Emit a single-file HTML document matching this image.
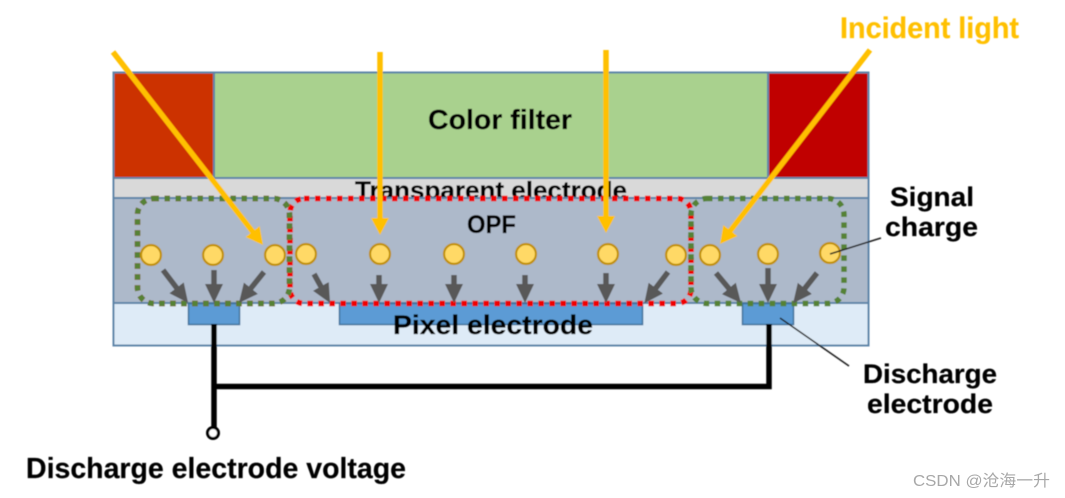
<!DOCTYPE html>
<html><head><meta charset="utf-8"><style>
html,body{margin:0;padding:0;background:#fff;width:1065px;height:498px;overflow:hidden}
svg{display:block}
text{font-family:"Liberation Sans",sans-serif;font-weight:bold;fill:#000;stroke:#000;stroke-width:0.2px}
</style></head><body>
<svg width="1065" height="498" viewBox="0 0 1065 498" xmlns="http://www.w3.org/2000/svg">
<defs>
<filter id="b"><feGaussianBlur stdDeviation="0.5"/></filter>
<marker id="g" markerUnits="userSpaceOnUse" markerWidth="22" markerHeight="20" refX="4" refY="10" orient="auto"><path d="M0 1L19 10L0 19Z" fill="#595959"/></marker>
<marker id="y" markerUnits="userSpaceOnUse" markerWidth="22" markerHeight="20" refX="3" refY="10" orient="auto"><path d="M0 1L17 10L0 19Z" fill="#FFC000"/></marker>
</defs>
<g filter="url(#b)">
<rect x="113" y="72" width="101" height="106" fill="#CC3300"/>
<rect x="214" y="72" width="554" height="106" fill="#A9D18E"/>
<rect x="768" y="72" width="101" height="106" fill="#C00000"/>
<rect x="113" y="178" width="756" height="20" fill="#D9D9D9"/>
<rect x="113" y="303" width="756" height="43" fill="#DEEBF7"/>
<text x="355" y="199" font-size="25" textLength="272" lengthAdjust="spacingAndGlyphs">Transparent electrode</text>
<rect x="113" y="198" width="756" height="105" fill="#ADB9CA"/>
<g fill="none" stroke="#5B84A8" stroke-width="2">
<rect x="113.500" y="72.500" width="755" height="273"/>
<path d="M113 178H869M113 198H869M113 303H869M214 72V178M768 72V178"/>
</g>
<g fill="#5B9BD5" stroke="#41719C" stroke-width="1.500">
<rect x="188.500" y="303.500" width="51" height="21"/>
<rect x="339.500" y="303.500" width="303" height="21"/>
<rect x="742.500" y="303.500" width="51" height="21"/>
</g>
<g fill="none" stroke="#000" stroke-width="5.500">
<path d="M214 324V428M769 324V386.500H214"/>
</g>
<circle cx="213" cy="433" r="5.500" fill="#fff" stroke="#000" stroke-width="3"/>
<g fill="none" stroke-width="5.500" stroke-dasharray="5.500 5.500">
<rect x="137.500" y="198.500" width="152" height="105" rx="16" stroke="#EE1111"/>
<rect x="290" y="198.500" width="401" height="105" rx="14" stroke="#F00000"/>
<rect x="137.500" y="198.500" width="152" height="105" rx="16" stroke="#548235"/>
<rect x="691" y="198.500" width="153" height="105" rx="16" stroke="#548235"/>
</g>
<g fill="#FFD966" stroke="#BF9000" stroke-width="2.200">
<circle cx="151" cy="255" r="10"/><circle cx="213" cy="255" r="10"/><circle cx="275" cy="255" r="10"/>
<circle cx="306" cy="254" r="10"/><circle cx="380" cy="254" r="10"/><circle cx="454" cy="254" r="10"/>
<circle cx="526" cy="254" r="10"/><circle cx="608" cy="254" r="10"/><circle cx="676" cy="255" r="10"/>
<circle cx="710" cy="255" r="10"/><circle cx="768" cy="254" r="10"/><circle cx="830" cy="253" r="10"/>
</g>
<g stroke="#595959" stroke-width="5.500" fill="none">
<path d="M163 270L179 291" marker-end="url(#g)"/>
<path d="M214 270V288" marker-end="url(#g)"/>
<path d="M264 272L248.400 291.300" marker-end="url(#g)"/>
<path d="M314 274L322.800 289.900" marker-end="url(#g)"/>
<path d="M379 275V288" marker-end="url(#g)"/>
<path d="M454 275V288" marker-end="url(#g)"/>
<path d="M525 275V288" marker-end="url(#g)"/>
<path d="M606 273V288" marker-end="url(#g)"/>
<path d="M668 272L653.400 291.300" marker-end="url(#g)"/>
<path d="M716 273L731.400 291.500" marker-end="url(#g)"/>
<path d="M768 268V288" marker-end="url(#g)"/>
<path d="M817 273L802.400 291.500" marker-end="url(#g)"/>
</g>
<g stroke="#FFC000" stroke-width="5.500" fill="none">
<path d="M113 52L254.400 233.900" marker-end="url(#y)"/>
<path d="M380 52V221" marker-end="url(#y)"/>
<path d="M606 50V219" marker-end="url(#y)"/>
<path d="M870 50L728.600 232.900" marker-end="url(#y)"/>
</g>
<g stroke="#1f1f1f" stroke-width="1.500" fill="none">
<path d="M830 254L881 238M780 318L849 366"/>
</g>
<text x="428" y="129" font-size="28" textLength="144" lengthAdjust="spacingAndGlyphs">Color filter</text>
<text x="467" y="233" font-size="25" textLength="49" lengthAdjust="spacingAndGlyphs">OPF</text>
<text x="393" y="334" font-size="27" textLength="200" lengthAdjust="spacingAndGlyphs">Pixel electrode</text>
<text x="840" y="38" font-size="30" textLength="179" lengthAdjust="spacingAndGlyphs" style="fill:#FFC000;stroke:#FFC000">Incident light</text>
<text x="890" y="206" font-size="27" textLength="84" lengthAdjust="spacingAndGlyphs">Signal</text>
<text x="885" y="236" font-size="27" textLength="93" lengthAdjust="spacingAndGlyphs">charge</text>
<text x="863" y="383" font-size="27" textLength="134" lengthAdjust="spacingAndGlyphs">Discharge</text>
<text x="867" y="413" font-size="27" textLength="126" lengthAdjust="spacingAndGlyphs">electrode</text>
<text x="26" y="478" font-size="29" textLength="380" lengthAdjust="spacingAndGlyphs">Discharge electrode voltage</text>
</g>
<text x="913" y="486" font-size="16" textLength="137" lengthAdjust="spacingAndGlyphs" style="font-family:'Liberation Sans','Noto Sans CJK SC',sans-serif;font-weight:normal;fill:#a8a8a8;stroke:none">CSDN @沧海一升</text>
</svg>
</body></html>
